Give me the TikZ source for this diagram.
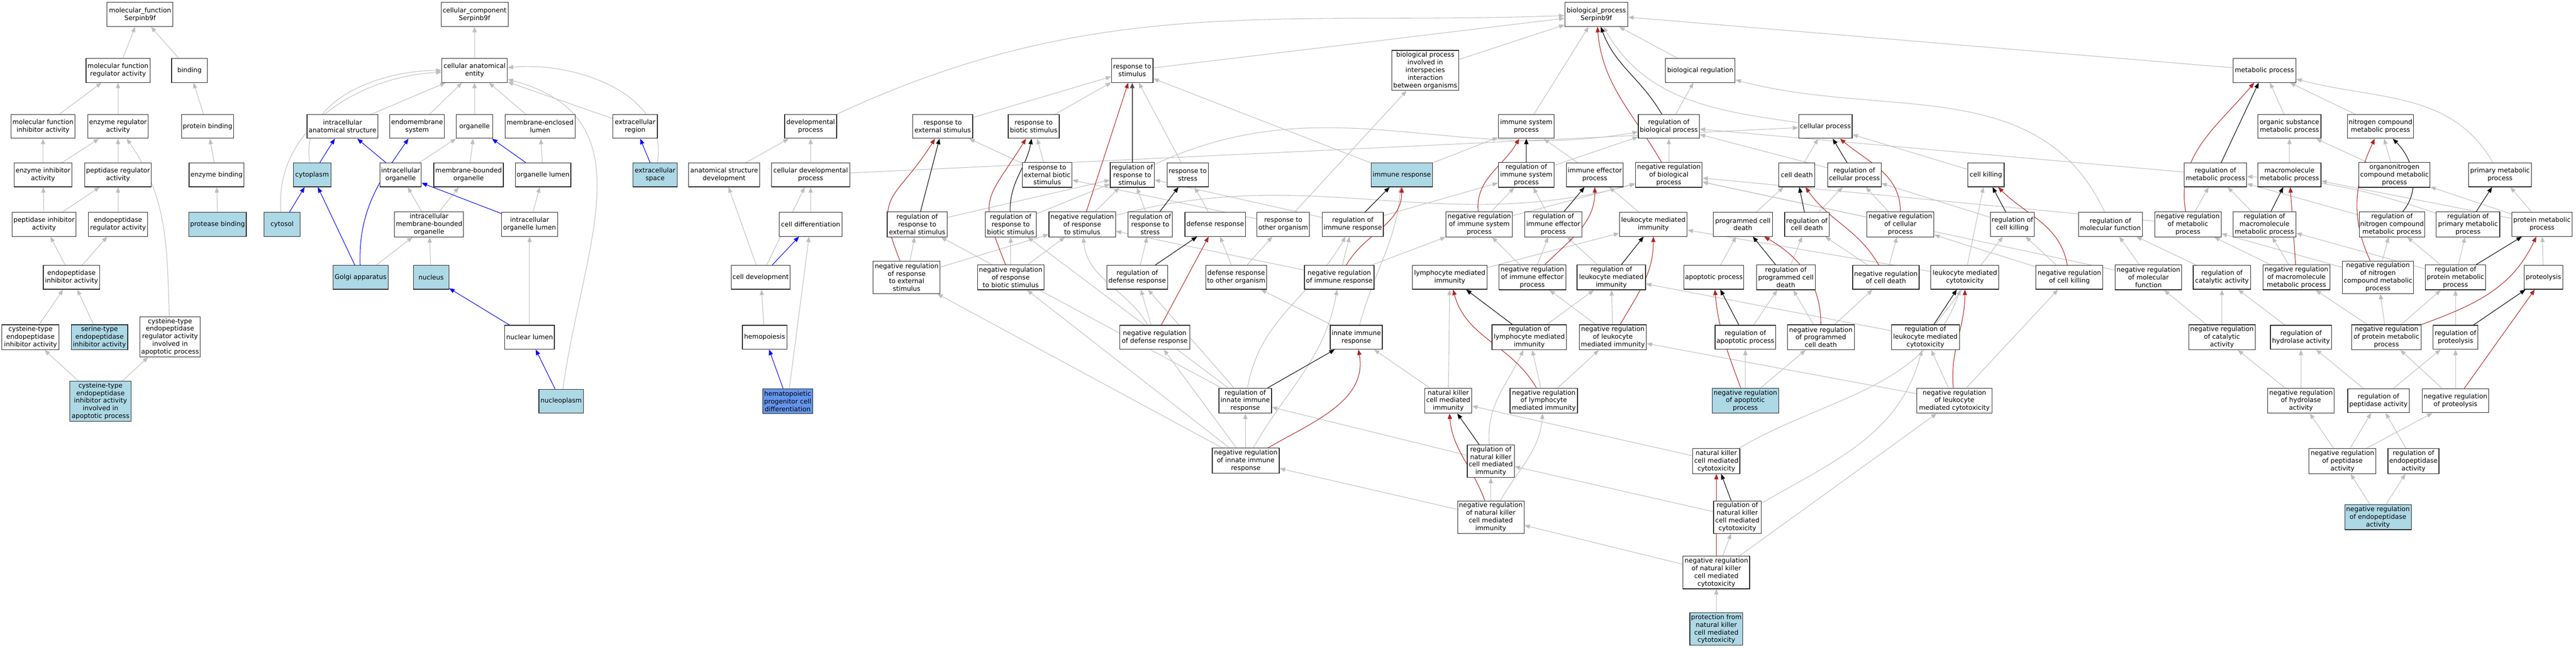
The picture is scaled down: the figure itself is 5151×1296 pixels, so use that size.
\documentclass[tikz,border=0pt]{standalone}
\usepackage{fontspec}
\setmainfont{DejaVu Sans}
\usetikzlibrary{arrows.meta}
\definecolor{lbl}{RGB}{173,216,230}
\definecolor{cfb}{RGB}{100,149,237}
\definecolor{egray}{RGB}{190,190,190}
\definecolor{ered}{RGB}{178,34,34}
\definecolor{eblue}{RGB}{0,0,255}
\pgfdeclarelayer{bg}
\pgfsetlayers{bg,main}
\tikzset{
 bx/.style={draw=black!85, line width=0.24pt, fill=white, inner sep=0.2pt, align=center, font=\fontsize{2.6}{3.06}\selectfont},
 lbx/.style={bx, fill=lbl},
 cbx/.style={bx, fill=cfb},
 conn/.style={line width=0.22pt, -{Triangle[length=2.2pt,width=1.7pt]}},
 isa/.style={conn, draw=egray},
 reg/.style={conn, draw=black},
 neg/.style={conn, draw=ered},
 prt/.style={conn, draw=eblue},
}
\newcommand{\nd}[7][bx]{\node[#1,minimum width=#5*0.2pt,minimum height=#6*0.2pt] (#2) at (#3,-#4) {#7};}
\begin{document}
\begin{tikzpicture}[x=0.2pt,y=0.2pt]
\useasboundingbox (0,0) rectangle (5151,-1296);
% ---------- molecular function
\nd{mf}{280}{29}{132}{48}{molecular\_function\\Serpinb9f}
\nd{mfra}{236}{141}{128}{48}{molecular function\\regulator activity}
\nd{bind}{379}{141}{72}{48}{binding}
\nd{mfia}{86}{253}{128}{48}{molecular function\\inhibitor activity}
\nd{era}{236}{253}{121}{48}{enzyme regulator\\activity}
\nd{pb}{415}{253}{104}{48}{protein binding}
\nd{eia}{86}{350}{115}{48}{enzyme inhibitor\\activity}
\nd{pra}{236}{350}{133}{48}{peptidase regulator\\activity}
\nd{eb}{433}{350}{110}{48}{enzyme binding}
\nd{pia}{88}{449}{128}{48}{peptidase inhibitor\\activity}
\nd{epra}{236}{449}{118}{48}{endopeptidase\\regulator activity}
\nd[lbx]{protb}{435}{449}{115}{48}{protease binding}
\nd{eiaa}{143}{555}{113}{48}{endopeptidase\\inhibitor activity}
\nd{cteia}{61}{675}{114}{50}{cysteine-type\\endopeptidase\\inhibitor activity}
\nd[lbx]{steia}{199}{675}{113}{50}{serine-type\\endopeptidase\\inhibitor activity}
\nd{cteraap}{340}{674}{120}{80}{cysteine-type\\endopeptidase\\regulator activity\\involved in\\apoptotic process}
\nd[lbx]{cteiaap}{201}{803}{122}{80}{cysteine-type\\endopeptidase\\inhibitor activity\\involved in\\apoptotic process}
% ---------- cellular component
\nd{cc}{949}{29}{134}{48}{cellular\_component\\Serpinb9f}
\nd{cae}{949}{141}{131}{48}{cellular anatomical\\entity}
\nd{ias}{685}{253}{142}{48}{intracellular\\anatomical structure}
\nd{ems}{834}{253}{109}{48}{endomembrane\\system}
\nd{org}{949}{253}{73}{48}{organelle}
\nd{mel}{1080}{253}{140}{48}{membrane-enclosed\\lumen}
\nd{exr}{1270}{253}{89}{48}{extracellular\\region}
\nd[lbx]{cyto}{624}{350}{75}{48}{cytoplasm}
\nd{io}{801}{350}{83}{48}{intracellular\\organelle}
\nd{mbo}{937}{350}{139}{48}{membrane-bounded\\organelle}
\nd{ol}{1086}{350}{111}{48}{organelle lumen}
\nd[lbx]{exs}{1310}{350}{89}{48}{extracellular\\space}
\nd[lbx]{cytosol}{564}{449}{72}{48}{cytosol}
\nd{imbo}{858}{449}{138}{50}{intracellular\\membrane-bounded\\organelle}
\nd{iol}{1059}{449}{112}{48}{intracellular\\organelle lumen}
\nd[lbx]{golgi}{721}{555}{110}{48}{Golgi apparatus}
\nd[lbx]{nuc}{862}{555}{71}{48}{nucleus}
\nd{nl}{1059}{675}{99}{48}{nuclear lumen}
\nd[lbx]{nucp}{1122}{803}{89}{48}{nucleoplasm}
% ---------- biological process
\nd{bp}{3192}{29}{126}{48}{biological\_process\\Serpinb9f}
\nd{rs}{2264}{141}{83}{48}{response to\\stimulus}
\nd{bpii}{2850}{141}{134}{80}{biological process\\involved in\\interspecies\\interaction\\between organisms}
\nd{breg}{3400}{141}{139}{48}{biological regulation}
\nd{mp}{4528}{141}{126}{48}{metabolic process}
\nd{dp}{1621}{253}{104}{48}{developmental\\process}
\nd{rexs}{1885}{253}{120}{48}{response to\\external stimulus}
\nd{rbs}{2067}{253}{102}{48}{response to\\biotic stimulus}
\nd{isp}{3052}{253}{112}{48}{immune system\\process}
\nd{rbp}{3337}{253}{122}{48}{regulation of\\biological process}
\nd{cp}{3650}{253}{107}{48}{cellular process}
\nd{osmp}{4578}{253}{126}{48}{organic substance\\metabolic process}
\nd{ncmp}{4760}{253}{132}{48}{nitrogen compound\\metabolic process}
\nd{asd}{1448}{350}{142}{48}{anatomical structure\\development}
\nd{cdp}{1621}{350}{156}{48}{cellular developmental\\process}
\nd{rebs}{2094}{350}{99}{50}{response to\\external biotic\\stimulus}
\nd{rrs}{2264}{350}{88}{50}{regulation of\\response to\\stimulus}
\nd{rstress}{2375}{350}{83}{48}{response to\\stress}
\nd[lbx]{ir}{2803}{350}{123}{48}{immune response}
\nd{risp}{3052}{350}{112}{50}{regulation of\\immune system\\process}
\nd{iep}{3189}{350}{114}{48}{immune effector\\process}
\nd{nrbp}{3337}{350}{133}{50}{negative regulation\\of biological\\process}
\nd{cd}{3593}{350}{72}{48}{cell death}
\nd{rcp}{3708}{350}{107}{48}{regulation of\\cellular process}
\nd{ck}{3971}{350}{73}{48}{cell killing}
\nd{rmp}{4430}{350}{125}{48}{regulation of\\metabolic process}
\nd{mmp}{4578}{350}{126}{48}{macromolecule\\metabolic process}
\nd{oncmp}{4788}{350}{142}{50}{organonitrogen\\compound metabolic\\process}
\nd{pmp}{4999}{350}{126}{48}{primary metabolic\\process}
\nd{cdiff}{1621}{449}{125}{48}{cell differentiation}
\nd{rres}{1834}{449}{120}{50}{regulation of\\response to\\external stimulus}
\nd{rrbs}{2021}{449}{102}{50}{regulation of\\response to\\biotic stimulus}
\nd{nrrs}{2164}{449}{133}{50}{negative regulation\\of response\\to stimulus}
\nd{rrstress}{2300}{449}{89}{50}{regulation of\\response to\\stress}
\nd{dr}{2430}{449}{121}{48}{defense response}
\nd{rtoo}{2566}{449}{105}{48}{response to\\other organism}
\nd{rir}{2705}{449}{122}{48}{regulation of\\immune response}
\nd{nrisp}{2958}{449}{133}{50}{negative regulation\\of immune system\\process}
\nd{riep}{3106}{449}{115}{50}{regulation of\\immune effector\\process}
\nd{lmi}{3306}{449}{135}{48}{leukocyte mediated\\immunity}
\nd{pcd}{3485}{449}{118}{48}{programmed cell\\death}
\nd{rcd}{3613}{449}{89}{48}{regulation of\\cell death}
\nd{nrcp}{3800}{449}{134}{50}{negative regulation\\of cellular\\process}
\nd{rck}{4024}{449}{88}{48}{regulation of\\cell killing}
\nd{rmf}{4220}{449}{128}{48}{regulation of\\molecular function}
\nd{nrmp}{4375}{449}{133}{50}{negative regulation\\of metabolic\\process}
\nd{rmmp}{4528}{449}{126}{50}{regulation of\\macromolecule\\metabolic process}
\nd{rncmp}{4783}{449}{131}{50}{regulation of\\nitrogen compound\\metabolic process}
\nd{rpmp}{4935}{449}{127}{50}{regulation of\\primary metabolic\\process}
\nd{protmp}{5083}{449}{121}{48}{protein metabolic\\process}
\nd{cdev}{1521}{555}{118}{48}{cell development}
\nd{nrres}{1813}{555}{134}{65}{negative regulation\\of response\\to external\\stimulus}
\nd{nrrbs}{2021}{555}{133}{50}{negative regulation\\of response\\to biotic stimulus}
\nd{rdr}{2274}{555}{121}{48}{regulation of\\defense response}
\nd{drtoo}{2472}{555}{122}{48}{defense response\\to other organism}
\nd{nrir}{2678}{555}{139}{48}{negative regulation\\of immune response}
\nd{lmii}{2899}{555}{149}{48}{lymphocyte mediated\\immunity}
\nd{nriep}{3064}{555}{134}{50}{negative regulation\\of immune effector\\process}
\nd{rlmi}{3222}{555}{137}{50}{regulation of\\leukocyte mediated\\immunity}
\nd{ap}{3427}{555}{120}{48}{apoptotic process}
\nd{rpcd}{3571}{555}{117}{50}{regulation of\\programmed cell\\death}
\nd{nrcd}{3771}{555}{133}{48}{negative regulation\\of cell death}
\nd{lmc}{3929}{555}{136}{48}{leukocyte mediated\\cytotoxicity}
\nd{nrck}{4138}{555}{134}{48}{negative regulation\\of cell killing}
\nd{nrmf}{4296}{555}{133}{50}{negative regulation\\of molecular\\function}
\nd{rca}{4443}{555}{115}{48}{regulation of\\catalytic activity}
\nd{nrmmp}{4592}{555}{134}{50}{negative regulation\\of macromolecule\\metabolic process}
\nd{nrncmp}{4755}{555}{142}{65}{negative regulation\\of nitrogen\\compound metabolic\\process}
\nd{rprotmp}{4910}{555}{121}{50}{regulation of\\protein metabolic\\process}
\nd{proteo}{5086}{555}{78}{48}{proteolysis}
\nd{hemo}{1529}{675}{89}{48}{hemopoiesis}
\nd{nrdr}{2309}{675}{140}{48}{negative regulation\\of defense response}
\nd{iir}{2712}{675}{104}{48}{innate immune\\response}
\nd{rlymi}{3058}{675}{149}{50}{regulation of\\lymphocyte mediated\\immunity}
\nd{nrlmi}{3225}{675}{134}{50}{negative regulation\\of leukocyte\\mediated immunity}
\nd{rap}{3490}{675}{121}{48}{regulation of\\apoptotic process}
\nd{nrpcd}{3641}{675}{134}{50}{negative regulation\\of programmed\\cell death}
\nd{rlmc}{3850}{675}{136}{50}{regulation of\\leukocyte mediated\\cytotoxicity}
\nd{nrca}{4443}{675}{133}{50}{negative regulation\\of catalytic\\activity}
\nd{rha}{4601}{675}{122}{48}{regulation of\\hydrolase activity}
\nd{nrprotmp}{4772}{675}{139}{50}{negative regulation\\of protein metabolic\\process}
\nd{rproteo}{4910}{675}{89}{48}{regulation of\\proteolysis}
\nd[cbx]{hpcd}{1575}{803}{100}{50}{hematopoietic\\progenitor cell\\differentiation}
\nd{rinn}{2490}{802}{105}{50}{regulation of\\innate immune\\response}
\nd{nkcmi}{2896}{802}{94}{50}{natural killer\\cell mediated\\immunity}
\nd{nrlymi}{3087}{802}{135}{50}{negative regulation\\of lymphocyte\\mediated immunity}
\nd[lbx]{nrap}{3490}{802}{133}{50}{negative regulation\\of apoptotic\\process}
\nd{nrlmc}{3908}{802}{150}{50}{negative regulation\\of leukocyte\\mediated cytotoxicity}
\nd{nrha}{4601}{802}{133}{50}{negative regulation\\of hydrolase\\activity}
\nd{rpa}{4756}{802}{123}{48}{regulation of\\peptidase activity}
\nd{nrproteo}{4910}{802}{133}{48}{negative regulation\\of proteolysis}
\nd{nrinn}{2491}{922}{134}{50}{negative regulation\\of innate immune\\response}
\nd{rnkcmi}{2981}{923}{94}{65}{regulation of\\natural killer\\cell mediated\\immunity}
\nd{nkcmc}{3432}{923}{94}{50}{natural killer\\cell mediated\\cytotoxicity}
\nd{nrpa}{4684}{923}{134}{50}{negative regulation\\of peptidase\\activity}
\nd{rea}{4826}{923}{102}{50}{regulation of\\endopeptidase\\activity}
\nd{nrnkcmi}{2981}{1035}{133}{65}{negative regulation\\of natural killer\\cell mediated\\immunity}
\nd{rnkcmc}{3474}{1035}{95}{65}{regulation of\\natural killer\\cell mediated\\cytotoxicity}
\nd[lbx]{nrea}{4755}{1035}{133}{50}{negative regulation\\of endopeptidase\\activity}
\nd{nrnkcmc}{3432}{1146}{133}{65}{negative regulation\\of natural killer\\cell mediated\\cytotoxicity}
\nd[lbx]{pfnk}{3432}{1259}{106}{65}{protection from\\natural killer\\cell mediated\\cytotoxicity}
% ---------- connectors
\begin{pgfonlayer}{bg}
\foreach \a/\b in {mfra/mf, bind/mf, mfia/mfra, era/mfra, pb/bind, eia/mfia, eia/era, pra/era, eb/pb, pia/eia, pia/pra, epra/pra, protb/eb, eiaa/pia, eiaa/epra, cteia/eiaa, steia/eiaa, cteiaap/cteia, cteiaap/cteraap,
 cae/cc, ias/cae, ems/cae, org/cae, mel/cae, exr/cae, io/org, mbo/org, ol/mel, imbo/io, imbo/mbo, iol/ol, golgi/imbo, nuc/imbo, nl/iol,
 rs/bp, bpii/bp, isp/bp, breg/bp, mp/bp, rexs/rs, rbs/rs, rstress/rs, rebs/rexs, rebs/rbs, ir/isp, ir/rs, rbp/breg, nrbp/rbp, risp/rbp, iep/isp, osmp/mp, ncmp/mp, asd/dp, cdp/dp, cdp/cp, cd/cp, rcp/rbp, ck/cp, rmp/rbp, mmp/osmp, oncmp/osmp, oncmp/ncmp, cdiff/cdp,
 rres/rrs, rrbs/rrs, nrrs/rrs, rrstress/rrs, dr/rstress, rtoo/rebs, rtoo/bpii, rir/risp, rir/rrs, nrisp/risp, nrisp/nrbp, riep/risp, lmi/iep, pcd/cd, rcd/rcp, nrcp/rcp, nrcp/nrbp, rck/rcp, nrmp/rmp, nrmp/nrbp, rmmp/rmp, rncmp/rmp, protmp/mmp, protmp/oncmp, protmp/pmp, cdev/asd, cdev/cdp,
 nrres/rres, nrres/nrrs, nrrbs/rrbs, nrrbs/nrrs, rdr/rrstress, drtoo/dr, drtoo/rtoo, nrir/rir, nrir/nrisp, nrir/nrrs, lmii/lmi, nriep/riep, nriep/nrisp, rlmi/riep, ap/pcd, rpcd/rcd, nrcd/rcd, nrcd/nrcp, lmc/lmi, lmc/ck, nrck/rck, nrck/nrcp, nrmf/rmf, nrmf/nrbp, rca/rmf, nrmmp/rmmp, nrmmp/nrmp, nrncmp/rncmp, nrncmp/nrmp, rprotmp/rpmp, rprotmp/rncmp, rprotmp/rmmp, proteo/protmp,
 hemo/cdev, nrdr/rdr, iir/drtoo, rlymi/rlmi, nrlmi/rlmi, nrlmi/nriep, rap/rpcd, nrpcd/rpcd, nrpcd/nrcd, rlmc/rlmi, rlmc/rck, nrca/rca, nrca/nrmf, rha/rca, nrprotmp/rprotmp, nrprotmp/nrncmp, nrprotmp/nrmmp, rproteo/rprotmp,
 hpcd/cdiff, rinn/rdr, rinn/rres, rinn/rrbs, nkcmi/lmii, nkcmi/iir, nrlymi/rlymi, nrlymi/nrlmi, nrap/rap, nrap/nrpcd, nrlmc/rlmc, nrlmc/nrlmi, nrlmc/nrck, nrha/rha, nrha/nrca, rpa/rha, rpa/rproteo, nrproteo/rproteo, nrproteo/nrprotmp,
 nrinn/rinn, nrinn/nrdr, nrinn/nrres, nrinn/nrrbs, rnkcmi/rinn, nkcmc/nkcmi, nrpa/rpa, nrpa/nrha, nrpa/nrproteo, rea/rpa, nrnkcmi/rnkcmi, nrnkcmi/nrinn, rnkcmc/rnkcmi, nrea/nrpa, nrea/rea, nrnkcmc/rnkcmc, nrnkcmc/nrnkcmi, nrnkcmc/nrlmc, pfnk/nrnkcmc}
  \draw[isa] (\a) -- (\b);
% curved is_a
\draw[isa] (cteraap) to[out=92,in=-55] (era);
\draw[isa] (cyto) to[out=100,in=180] (cae);
\draw[isa] (cytosol) to[out=95,in=183] (cae);
\draw[isa] (exs) to[out=80,in=5] (cae);
\draw[isa] (nucp) to[out=82,in=-15,looseness=1.2] (cae);
\draw[isa] (dp) to[out=25,in=182] (bp);
\draw[isa] (cp) to[out=172,in=-60] (bp);
\draw[isa] (pmp) to[out=120,in=-15] (mp);
\draw[isa] (rmf) to[out=115,in=-15] (breg);
\draw[isa] (rpmp) to[bend right=8] (rmp);
\draw[isa] (rrs) to[out=25,in=190] (rbp);
\draw[isa] (nrrs) to[out=15,in=195] (nrbp);
\draw[isa] (nkcmc) to[out=30,in=-110] (lmc);
\draw[isa] (rnkcmc) to[out=30,in=-105] (rlmc);
\draw[isa] (rnkcmi) to[out=95,in=-115] (rlymi);
\draw[isa] (nrnkcmi) to[out=60,in=-95] (nrlymi);
\draw[isa] (iir) to[out=75,in=-95] (ir);
\draw[isa] (nrdr) to[out=120,in=-85] (nrrs);
\draw[isa] (rinn) to[out=80,in=-120] (rir);
\draw[isa] (nrinn) to[out=60,in=-100] (nrir);
% part_of
\foreach \a/\b in {cyto/ias, io/ias, golgi/cyto, cytosol/cyto, ol/org, exs/exr, iol/io, nl/nuc, nucp/nl, cdev/cdiff, hpcd/hemo}
  \draw[prt] (\a) -- (\b);
\draw[prt] (golgi) to[out=92,in=-125] (ems);
% regulates
\foreach \a/\b in {rres/rexs, rrstress/rstress, rdr/dr, rir/ir, risp/isp, riep/iep, rlmi/lmi, rlymi/lmii, rnkcmi/nkcmi, rinn/iir, rcp/cp, rcd/cd, rpcd/pcd, rap/ap, rck/ck, rlmc/lmc, rnkcmc/nkcmc, rmp/mp, rmmp/mmp, rpmp/pmp, rprotmp/protmp, rproteo/proteo}
  \draw[reg] (\a) -- (\b);
\draw[reg, draw=black!70, line width=0.4pt] (rrs) -- (rs);
\draw[reg] (rrbs) to[out=92,in=-100] (rbs);
\draw[reg] (rbp) to[out=120,in=-70] (bp);
\draw[reg] (rncmp) to[out=50,in=-45] (ncmp);
% negatively regulates
\foreach \a/\b in {nrrs/rs, nrdr/dr, nrnkcmc/nkcmc, nrmmp/mmp, nrproteo/proteo}
  \draw[neg] (\a) -- (\b);
\draw[neg] (nrres) to[out=112,in=-122,looseness=1.5] (rexs);
\draw[neg] (nrrbs) to[out=112,in=-122,looseness=1.5] (rbs);
\draw[neg] (nrir) to[out=60,in=-90] (ir);
\draw[neg] (nrisp) to[out=95,in=-120] (isp);
\draw[neg] (nriep) to[out=45,in=-90] (iep);
\draw[neg] (nrlmi) to[out=60,in=-90] (lmi);
\draw[neg] (nrlymi) to[out=120,in=-75] (lmii);
\draw[neg] (nrnkcmi) to[out=110,in=-85] (nkcmi);
\draw[neg] (nrinn) to[out=30,in=-80] (iir);
\draw[neg] (nrbp) to[out=120,in=-85] (bp);
\draw[neg] (nrcp) to[out=90,in=-40] (cp);
\draw[neg] (nrcd) to[out=120,in=-55] (cd);
\draw[neg] (nrpcd) to[out=90,in=-30] (pcd);
\draw[neg] (nrck) to[out=100,in=-45] (ck);
\draw[neg] (nrap) to[out=110,in=-85] (ap);
\draw[neg] (nrlmc) to[out=95,in=-90] (lmc);
\draw[neg] (nrmp) to[out=100,in=-130] (mp);
\draw[neg] (nrncmp) to[out=115,in=-115] (ncmp);
\draw[neg] (nrprotmp) to[out=20,in=-115] (protmp);
\end{pgfonlayer}
\end{tikzpicture}
\end{document}
